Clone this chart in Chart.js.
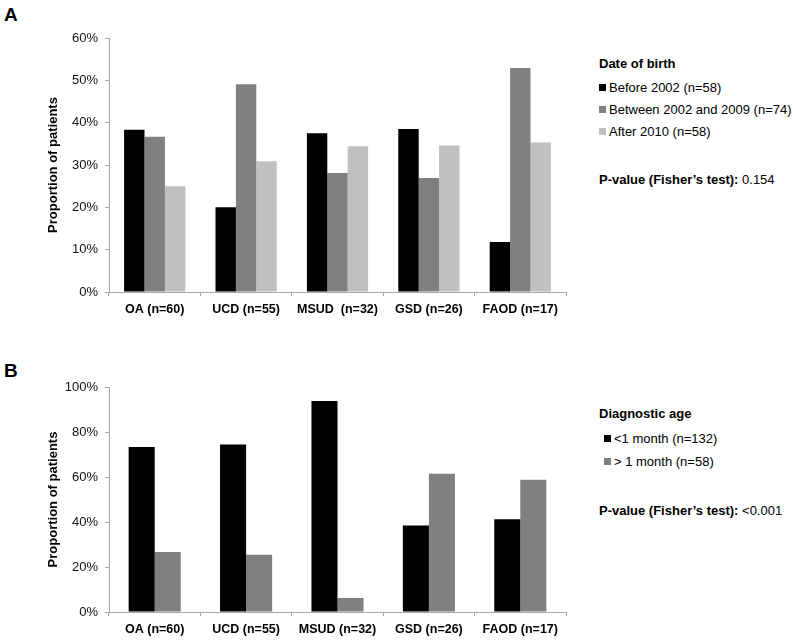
<!DOCTYPE html>
<html>
<head>
<meta charset="utf-8">
<script src="https://cdn.jsdelivr.net/npm/chart.js@4.4.1/dist/chart.umd.min.js"></script>
<style>
  body { margin: 0; background: #fff; font-family: "Liberation Sans", Arial, sans-serif; color: #000; }
  #wrap { position: relative; width: 793px; height: 640px; }
  canvas { position: absolute; left: 0; }
  .panel { position: absolute; font-weight: bold; font-size: 19px; line-height: 20px; }
  .txt { position: absolute; font-size: 13px; line-height: 16px; white-space: nowrap; }
  .txt b { font-weight: bold; }
  .sw { display: inline-block; width: 7px; height: 7px; margin-right: 3px; vertical-align: 1px; }
</style>
</head>
<body>
<div id="wrap">
  <div class="panel" style="left:4px; top:5px;">A</div>
  <div class="panel" style="left:4px; top:361px;">B</div>
  <canvas id="chartA" width="580" height="320" style="top:0;"></canvas>
  <canvas id="chartB" width="580" height="320" style="top:320px;"></canvas>

  <div class="txt" style="left:599px; top:56px;"><b>Date of birth</b></div>
  <div class="txt" style="left:599px; top:80px;"><span class="sw" style="background:#000"></span>Before 2002 (n=58)</div>
  <div class="txt" style="left:599px; top:102px;"><span class="sw" style="background:#808080"></span>Between 2002 and 2009 (n=74)</div>
  <div class="txt" style="left:599px; top:124px;"><span class="sw" style="background:#c0c0c0"></span>After 2010 (n=58)</div>
  <div class="txt" style="left:599px; top:172px;"><b>P-value (Fisher’s test):</b> 0.154</div>

  <div class="txt" style="left:599px; top:406px;"><b>Diagnostic age</b></div>
  <div class="txt" style="left:604px; top:431px;"><span class="sw" style="background:#000"></span>&lt;1 month (n=132)</div>
  <div class="txt" style="left:604px; top:454px;"><span class="sw" style="background:#808080"></span>&gt; 1 month (n=58)</div>
  <div class="txt" style="left:599px; top:503px;"><b>P-value (Fisher’s test):</b> &lt;0.001</div>
</div>
<script>
// Categories shared by both panels
const groups = ['OA (n=60)', 'UCD (n=55)', 'MSUD  (n=32)', 'GSD (n=26)', 'FAOD (n=17)'];
const groupsB = ['OA (n=60)', 'UCD (n=55)', 'MSUD (n=32)', 'GSD (n=26)', 'FAOD (n=17)'];

// Panel A - date of birth
const before2002 = [0.383, 0.200, 0.375, 0.385, 0.118];
const between2002and2009 = [0.367, 0.491, 0.281, 0.269, 0.529];
const after2010 = [0.250, 0.309, 0.344, 0.346, 0.353];
const ticksA = [0, 0.1, 0.2, 0.3, 0.4, 0.5, 0.6];

// Panel B - diagnostic age
const under1month = [0.733, 0.745, 0.9375, 0.385, 0.412];
const over1month = [0.267, 0.255, 0.0625, 0.615, 0.588];
const ticksB = [0, 0.2, 0.4, 0.6, 0.8, 1.0];

const axisColor = '#a6a6a6';
const fontFamily = '"Liberation Sans", Arial, sans-serif';

function makeChart(canvasId, labels, datasets, max, step, padTop, catPct) {
  const ctx = document.getElementById(canvasId);
  return new Chart(ctx, {
    type: 'bar',
    data: { labels: labels, datasets: datasets },
    options: {
      responsive: false,
      animation: false,
      layout: { padding: { top: padTop, right: 14, left: 46, bottom: 0 } },
      plugins: { legend: { display: false }, tooltip: { enabled: false } },
      datasets: { bar: { categoryPercentage: catPct, barPercentage: 1.0 } },
      scales: {
        x: {
          grid: { drawOnChartArea: false, drawTicks: true, tickLength: 4, color: axisColor, offset: true },
          border: { color: axisColor },
          ticks: { font: { size: 12.5, weight: 'bold', family: fontFamily }, color: '#000', padding: 6, maxRotation: 0, autoSkip: false },
          afterFit: function(scale) { scale.height = 28; }
        },
        y: {
          min: 0,
          max: max,
          grid: { drawOnChartArea: false, drawTicks: true, tickLength: 4, color: axisColor },
          border: { color: axisColor },
          ticks: {
            stepSize: step,
            font: { size: 13, family: fontFamily },
            color: '#111',
            padding: 7,
            callback: function(v) { return Math.round(v * 100) + '%'; }
          },
          title: { display: true, text: 'Proportion of patients', font: { size: 13, weight: 'bold', family: fontFamily }, color: '#000', padding: 0 },
          afterFit: function(scale) { scale.width = 63; }
        }
      }
    }
  });
}

makeChart('chartA', groups, [
  { label: 'Before 2002 (n=58)', data: before2002, backgroundColor: '#000000' },
  { label: 'Between 2002 and 2009 (n=74)', data: between2002and2009, backgroundColor: '#808080' },
  { label: 'After 2010 (n=58)', data: after2010, backgroundColor: '#c0c0c0' }
], ticksA[ticksA.length - 1], ticksA[1], 38, 0.67);

makeChart('chartB', groupsB, [
  { label: '<1 month (n=132)', data: under1month, backgroundColor: '#000000' },
  { label: '> 1 month (n=58)', data: over1month, backgroundColor: '#808080' }
], ticksB[ticksB.length - 1], ticksB[1], 67, 0.57);
</script>
</body>
</html>
